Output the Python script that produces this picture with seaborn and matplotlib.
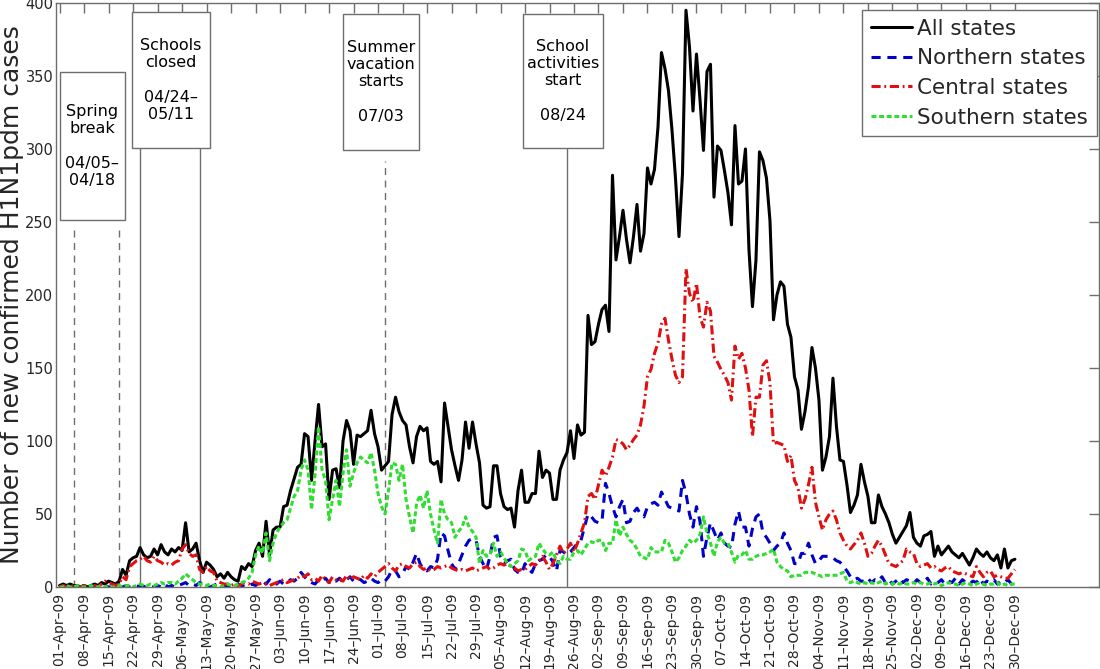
import numpy as np
import pandas as pd
import matplotlib
matplotlib.use("Agg")
import matplotlib.pyplot as plt
from matplotlib.patches import Rectangle
import seaborn as sns

# ---------------- data (day 0 = 01-Apr-2009) ----------------
all_states = [
    1, 2, 1, 2, 1, 1, 0, 1, 0, 1,
    2, 1, 3, 2, 4, 3, 2, 4, 12, 8,
    18, 20, 21, 27, 22, 20, 21, 26, 22, 29,
    24, 22, 26, 24, 27, 25, 44, 24, 26, 30,
    18, 10, 17, 15, 12, 7, 9, 6, 10, 7,
    5, 4, 14, 12, 16, 14, 25, 30, 21, 45,
    22, 39, 41, 41, 55, 56, 66, 74, 82, 84,
    105, 103, 73, 100, 125, 96, 98, 60, 80, 81,
    68, 100, 114, 107, 84, 104, 103, 105, 107, 121,
    105, 96, 80, 83, 86, 118, 130, 120, 114, 111,
    96, 85, 103, 110, 107, 109, 86, 84, 86, 72,
    126, 110, 94, 83, 73, 87, 113, 95, 113, 98,
    85, 56, 54, 55, 83, 83, 64, 55, 53, 54,
    41, 66, 80, 58, 58, 64, 64, 93, 75, 80,
    78, 60, 60, 80, 87, 92, 107, 88, 111, 104,
    106, 186, 166, 168, 180, 190, 193, 175, 282, 224,
    240, 258, 238, 222, 240, 262, 230, 242, 287, 276,
    286, 315, 366, 355, 340, 313, 280, 240, 283, 395,
    370, 326, 365, 334, 299, 353, 358, 267, 302, 299,
    285, 270, 248, 316, 276, 278, 300, 231, 192, 224,
    298, 292, 280, 251, 183, 200, 209, 206, 180, 171,
    144, 135, 108, 120, 137, 164, 150, 128, 80, 89,
    103, 143, 110, 87, 86, 70, 51, 56, 63, 84,
    72, 62, 44, 44, 63, 55, 50, 44, 36, 30,
    34, 38, 42, 51, 34, 30, 28, 35, 36, 38,
    21, 28, 22, 25, 28, 24, 22, 20, 23, 19,
    15, 20, 26, 23, 21, 24, 20, 18, 22, 13,
    26, 13, 18, 19,
]

northern = [
    0, 0, 0, 0, 0, 0, 0, 1, 0, 0,
    0, 0, 0, 1, 0, 0, 0, 0, 0, 1,
    0, 0, 1, 0, 0, 1, 0, 0, 1, 0,
    2, 0, 1, 0, 1, 2, 3, 1, 2, 1,
    3, 2, 1, 0, 1, 2, 0, 1, 0, 1,
    0, 2, 1, 0, 1, 2, 1, 3, 4, 2,
    5, 3, 2, 4, 2, 3, 5, 4, 6, 10,
    7, 4, 3, 2, 5, 4, 6, 3, 5, 4,
    6, 3, 5, 7, 4, 6, 5, 3, 4, 6,
    4, 3, 5, 4, 7, 12, 11, 7, 9, 14,
    12, 17, 23, 16, 12, 11, 14, 13, 19, 37,
    35, 25, 16, 12, 16, 22, 28, 32, 33, 32,
    21, 16, 12, 21, 34, 35, 21, 16, 18, 19,
    12, 10, 9, 16, 12, 10, 16, 18, 19, 22,
    21, 17, 11, 25, 24, 22, 24, 27, 30, 32,
    41, 50, 48, 45, 44, 45, 71, 64, 55, 48,
    55, 60, 44, 45, 51, 54, 50, 48, 55, 57,
    58, 56, 65, 60, 55, 54, 53, 52, 73, 64,
    50, 41, 55, 45, 21, 34, 44, 38, 32, 37,
    30, 28, 27, 43, 52, 41, 41, 28, 40, 48,
    50, 37, 34, 30, 25, 28, 30, 37, 30, 25,
    16, 16, 23, 23, 30, 22, 16, 18, 21, 21,
    21, 20, 18, 17, 14, 11, 7, 5, 6, 4,
    4, 6, 3, 5, 4, 7, 3, 5, 2, 4,
    6, 3, 5, 4, 2, 5, 3, 4, 6, 2,
    4, 3, 5, 2, 4, 3, 6, 2, 5, 3,
    2, 4, 3, 6, 2, 4, 3, 5, 2, 4,
    3, 5, 2, 4,
]

central = [
    0, 1, 0, 0, 1, 0, 0, 1, 0, 0,
    1, 0, 2, 4, 3, 2, 1, 2, 7, 5,
    14, 16, 18, 19, 21, 18, 17, 21, 18, 17,
    15, 16, 15, 17, 18, 26, 29, 23, 21, 22,
    12, 10, 14, 11, 10, 4, 3, 2, 2, 1,
    2, 1, 2, 3, 2, 4, 3, 2, 3, 2,
    1, 2, 3, 4, 5, 3, 4, 5, 6, 8,
    7, 9, 5, 6, 4, 8, 5, 3, 7, 5,
    6, 4, 8, 5, 7, 6, 5, 8, 6, 9,
    7, 10, 12, 14, 16, 13, 11, 15, 16, 14,
    13, 16, 17, 14, 12, 13, 11, 12, 14, 13,
    14, 15, 13, 12, 11, 12, 11, 12, 13, 11,
    12, 13, 14, 12, 13, 15, 16, 15, 16, 14,
    13, 11, 12, 12, 14, 16, 15, 18, 21, 17,
    12, 16, 22, 28, 23, 26, 30, 24, 30, 37,
    44, 62, 64, 60, 70, 80, 76, 82, 89, 101,
    100, 98, 94, 97, 101, 104, 111, 124, 144, 149,
    160, 167, 180, 184, 169, 156, 145, 140, 144, 218,
    201, 195, 208, 185, 178, 195, 189, 158, 154, 149,
    145, 140, 128, 165, 156, 160, 150, 135, 103, 130,
    130, 152, 155, 140, 98, 99, 98, 97, 86, 90,
    73, 68, 54, 60, 70, 82, 58, 48, 39, 46,
    50, 52, 46, 37, 32, 28, 26, 29, 32, 37,
    30, 21, 23, 28, 32, 28, 22, 16, 15, 14,
    16, 18, 26, 24, 23, 16, 14, 15, 16, 13,
    14, 12, 11, 13, 14, 11, 10, 9, 10, 9,
    8, 7, 14, 10, 7, 10, 11, 7, 8, 7,
    6, 6, 9, 12,
]

southern = [
    0, 0, 1, 0, 0, 1, 0, 0, 0, 1,
    0, 0, 1, 0, 1, 0, 0, 1, 0, 1,
    1, 0, 1, 2, 1, 1, 2, 1, 2, 3,
    2, 3, 3, 2, 4, 6, 9, 7, 5, 3,
    2, 2, 1, 2, 1, 1, 0, 1, 2, 1,
    1, 2, 3, 4, 6, 10, 22, 28, 23, 37,
    18, 30, 37, 41, 44, 46, 54, 62, 66, 80,
    87, 80, 53, 77, 110, 80, 73, 46, 60, 73,
    55, 78, 94, 69, 78, 85, 89, 87, 85, 92,
    80, 64, 55, 50, 66, 85, 84, 73, 84, 60,
    48, 37, 57, 63, 54, 66, 50, 39, 30, 60,
    50, 46, 44, 34, 38, 41, 48, 41, 38, 34,
    16, 25, 21, 22, 30, 21, 24, 20, 16, 14,
    16, 18, 26, 25, 18, 20, 21, 30, 26, 23,
    22, 24, 18, 16, 21, 19, 19, 24, 25, 22,
    26, 30, 31, 30, 32, 32, 25, 30, 30, 46,
    35, 41, 36, 32, 30, 26, 21, 20, 19, 27,
    24, 24, 24, 32, 30, 24, 17, 20, 25, 28,
    32, 30, 32, 36, 48, 37, 30, 21, 31, 34,
    30, 30, 24, 17, 22, 22, 25, 19, 19, 21,
    22, 22, 23, 24, 26, 17, 14, 12, 11, 7,
    8, 8, 8, 10, 10, 10, 9, 8, 7, 8,
    8, 8, 8, 9, 10, 4, 3, 4, 3, 2,
    3, 2, 3, 2, 3, 4, 2, 3, 2, 3,
    2, 3, 2, 2, 3, 2, 3, 2, 2, 3,
    2, 3, 1, 2, 3, 2, 2, 1, 2, 3,
    2, 1, 2, 3, 2, 1, 2, 2, 3, 1,
    2, 1, 2, 2,
]

series_names = ["All states", "Northern states", "Central states", "Southern states"]
start_date = pd.Timestamp("2009-04-01")
tick_dates = pd.date_range("2009-04-01", "2009-12-30", freq="7D")
tick_labels = [d.strftime("%d\u2013%b\u2013%y") for d in tick_dates]
y_ticks = [0, 50, 100, 150, 200, 250, 300, 350, 400]

# events: (label, start date, end date or None)
event_texts = ["Spring\nbreak\n\n04/05\u2013\n04/18",
               "Schools\nclosed\n\n04/24\u2013\n05/11",
               "Summer\nvacation\nstarts\n\n07/03",
               "School\nactivities\nstart\n\n08/24"]
event_dates = [("2009-04-05", "2009-04-18"), ("2009-04-24", "2009-05-11"),
               ("2009-07-03", None), ("2009-08-24", None)]

# ---------------- build frame ----------------
n = len(all_states)
days = np.arange(n)
df = pd.DataFrame({"day": days, "All states": all_states, "Northern states": northern,
                   "Central states": central, "Southern states": southern})

sns.set_theme(style="white")
plt.rcParams["font.family"] = ["DejaVu Sans"]

fig = plt.figure(figsize=(11.0, 6.69), dpi=100)
ax = fig.add_axes([0.051, 0.1226, 0.948, 0.873])

styles = {
    "All states": dict(color="black", ls="-"),
    "Northern states": dict(color="#0000c8", ls="--"),
    "Central states": dict(color="#e01010", ls="-."),
    "Southern states": dict(color="#30dd30", ls=":"),
}
dash_patterns = {"Northern states": (3.0, 2.2), "Central states": (3.0, 1.2, 0.6, 1.2),
                 "Southern states": (1.6, 0.9)}
for name in series_names:
    st = styles[name]
    sns.lineplot(data=df, x="day", y=name, ax=ax, color=st["color"], linestyle=st["ls"],
                 linewidth=2.2, label=name)
    line = ax.lines[-1]
    if name in dash_patterns:
        line.set_dashes(dash_patterns[name])

# event lines and boxes
gray = "#6e6e6e"
box_specs = [  # (x0, x1, y0, y1) in data coords, dashed?
    (0.0, 18.6, 251, 353, True),
    (20.6, 42.9, 300.7, 394, False),
    (80.9, 102.6, 299.3, 392.5, True),
    (132.3, 155.4, 300.7, 392.5, False),
]
line_tops = [247, 300.7, 292, 300.7]
for (txt, (d0, d1), (x0, x1, y0, y1, dashed), top) in zip(event_texts, event_dates, box_specs, line_tops):
    for d in [d0, d1]:
        if d is None:
            continue
        xd = (pd.Timestamp(d) - start_date).days
        ax.plot([xd, xd], [0, top], color=gray, lw=1.0,
                ls=(0, (5, 4)) if dashed else "-", zorder=1)
    ax.add_patch(Rectangle((x0, y0), x1 - x0, y1 - y0, facecolor="white",
                           edgecolor=gray, lw=1.0, zorder=3))
    ax.text((x0 + x1) / 2, (y0 + y1) / 2, txt, ha="center", va="center",
            fontsize=11.5, linespacing=1.2, zorder=4, color="black")

ax.set_xlim(-1, 297)
ax.set_ylim(0, 400)
tick_pos = [(d - start_date).days for d in tick_dates]
ax.set_xticks(tick_pos)
ax.set_xticklabels(tick_labels, rotation=90, fontsize=10)
ax.set_yticks(y_ticks)
ax.set_yticklabels([str(v) for v in y_ticks], fontsize=10.5)
ax.tick_params(axis="both", direction="in", length=7, width=1, color=gray,
               top=True, right=True, pad=2)
ax.tick_params(axis="x", pad=4)
for sp in ax.spines.values():
    sp.set_color(gray)
    sp.set_linewidth(1.0)
    sp.set_visible(True)
ax.set_xlabel("")
ax.set_ylabel("Number of new confirmed H1N1pdm cases", fontsize=18, labelpad=1)
ax.grid(False)

leg = ax.legend(loc="upper right", bbox_to_anchor=(0.998, 0.988), borderaxespad=0,
                fontsize=15.5, frameon=True, fancybox=False, edgecolor=gray,
                framealpha=1, handlelength=1.9, handletextpad=0.25,
                labelspacing=0.45, borderpad=0.4)
leg.get_frame().set_linewidth(1.0)

fig.savefig("out.png", dpi=100)
